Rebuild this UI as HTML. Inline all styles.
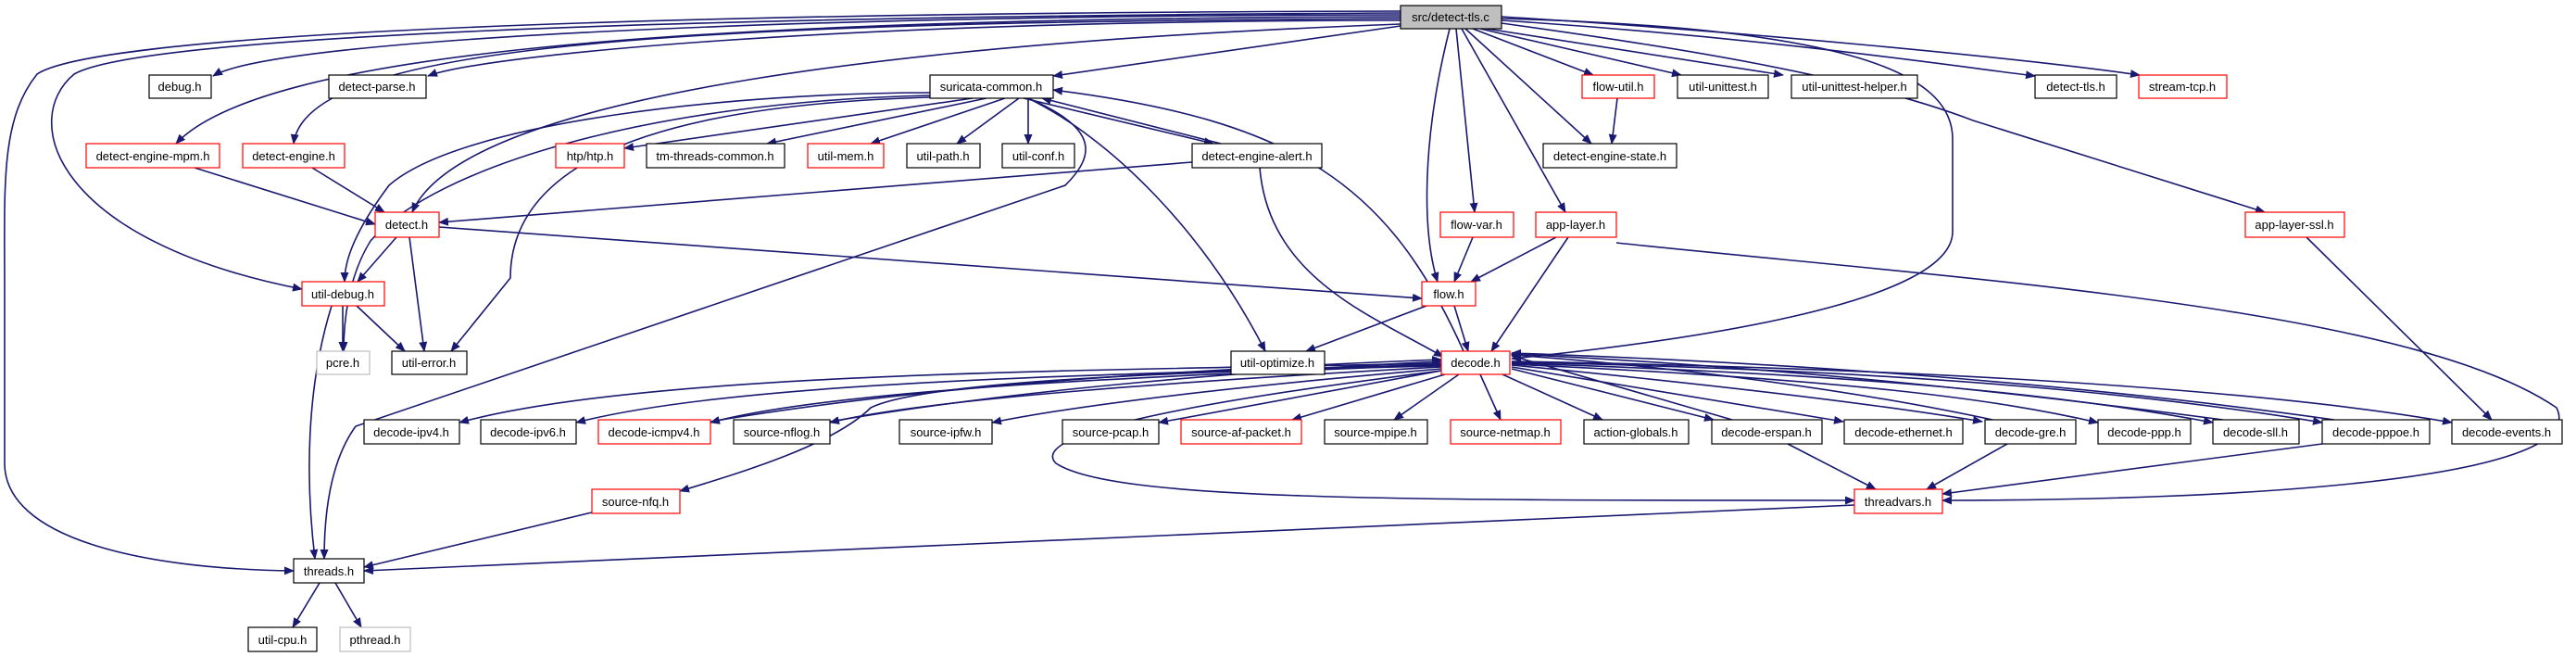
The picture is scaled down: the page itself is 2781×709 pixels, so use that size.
<!DOCTYPE html>
<html><head><meta charset="utf-8"><style>
html,body{margin:0;padding:0;background:#fff;}
svg{display:block;}
text{font-family:"Liberation Sans",sans-serif;font-size:13px;fill:#000;text-anchor:middle;}
.e{fill:none;stroke:#191970;stroke-width:1.6;marker-end:url(#a);}
.b{fill:#fff;stroke:#000;stroke-width:1.2;}
.r{fill:#fff;stroke:#ff0000;stroke-width:1.2;}
.g{fill:#fff;stroke:#bfbfbf;stroke-width:1.2;}
</style></head><body>
<svg width="2781" height="709" viewBox="0 0 2781 709" xmlns="http://www.w3.org/2000/svg">
<defs><marker id="a" markerWidth="11" markerHeight="9" refX="10" refY="4.5" orient="auto" markerUnits="userSpaceOnUse"><path d="M0,0 L11,4.5 L0,9 z" fill="#191970"/></marker></defs>
<g>
<path class="e" d="M1512,16 C900,16 300,40 230,82"/>
<path class="e" d="M1512,22 C900,22 520,60 462,82"/>
<path class="e" d="M1512,18 C700,20 280,60 190,155"/>
<path class="e" d="M1512,20 C700,24 330,50 317,155"/>
<path class="e" d="M1512,26 C1000,45 500,100 445,229"/>
<path class="e" d="M1512,14 C700,18 150,40 80,80 C20,130 60,260 326,312"/>
<path class="e" d="M1512,12 C600,14 100,40 40,80 C0,130 5,200 5,320 L5,500 C5,580 150,614 317,616"/>
<path class="e" d="M1512,28 L1137,82"/>
<path class="e" d="M1590,31 L1720,81"/>
<path class="e" d="M1598,31 L1815,81"/>
<path class="e" d="M1605,31 L1925,81"/>
<path class="e" d="M1621,22 C1900,40 2100,70 2197,82"/>
<path class="e" d="M1621,18 C1900,35 2200,65 2310,81"/>
<path class="e" d="M1582,31 L1718,155"/>
<path class="e" d="M1572,31 L1592,229"/>
<path class="e" d="M1578,31 L1690,229"/>
<path class="e" d="M1621,25 C1800,50 2000,80 2130,130 L2445,229"/>
<path class="e" d="M1565,31 C1535,150 1535,250 1552,304"/>
<path class="e" d="M1621,20 C2000,30 2108,80 2108,150 L2108,250 C2108,330 1800,370 1632,387"/>
<path class="e" d="M1050,106 L674,160"/>
<path class="e" d="M1065,106 L828,155"/>
<path class="e" d="M1085,106 L940,155"/>
<path class="e" d="M1100,106 L1033,155"/>
<path class="e" d="M1110,106 L1110,155"/>
<path class="e" d="M1105,106 L1310,155"/>
<path class="e" d="M1318,155 L1125,106"/>
<path class="e" d="M1004,100 C800,100 500,130 420,200 C375,260 372,290 372,304"/>
<path class="e" d="M1004,103 C700,110 470,180 400,260 C375,300 371,350 371,379"/>
<path class="e" d="M1004,105 C650,115 551,200 551,300 L487,379"/>
<path class="e" d="M1110,106 C1190,140 1180,170 1150,200 L384,460 C355,500 350,560 350,603"/>
<path class="e" d="M1110,106 C1200,150 1300,250 1366,379"/>
<path class="e" d="M1580,379 C1500,200 1400,130 1137,97"/>
<path class="e" d="M1287,175 L474,240"/>
<path class="e" d="M1360,181 C1370,300 1480,340 1558,385"/>
<path class="e" d="M210,181 L405,242"/>
<path class="e" d="M337,181 L415,229"/>
<path class="e" d="M428,256 L386,304"/>
<path class="e" d="M442,256 L458,379"/>
<path class="e" d="M474,245 L1535,322"/>
<path class="e" d="M370,330 L370,379"/>
<path class="e" d="M385,330 L437,379"/>
<path class="e" d="M358,330 C330,420 330,520 340,603"/>
<path class="e" d="M1746,106 L1740,155"/>
<path class="e" d="M1590,256 L1570,304"/>
<path class="e" d="M1680,256 L1588,304"/>
<path class="e" d="M1693,256 L1610,379"/>
<path class="e" d="M1745,262 C2100,300 2600,330 2760,440 C2800,520 2400,540 2097,540"/>
<path class="e" d="M2490,256 L2690,453"/>
<path class="e" d="M1540,330 L1410,379"/>
<path class="e" d="M1570,330 L1585,379"/>
<path class="e" d="M1556,392 C1200,400 700,400 496,456"/>
<path class="e" d="M1556,393 C1200,405 800,410 622,456"/>
<path class="e" d="M1556,394 C1250,405 900,420 767,456"/>
<path class="e" d="M1556,396 C1300,410 1000,430 896,456"/>
<path class="e" d="M1556,398 C1300,420 1150,440 1071,456"/>
<path class="e" d="M1556,400 L1251,456"/>
<path class="e" d="M1560,404 L1395,453"/>
<path class="e" d="M1575,404 L1505,453"/>
<path class="e" d="M1598,404 L1620,453"/>
<path class="e" d="M1622,404 L1730,453"/>
<path class="e" d="M1632,398 L1850,453"/>
<path class="e" d="M1632,396 L1990,455"/>
<path class="e" d="M1632,394 C1900,420 2050,440 2140,455"/>
<path class="e" d="M1632,393 C2000,410 2150,430 2265,456"/>
<path class="e" d="M1632,392 C2050,405 2250,430 2389,456"/>
<path class="e" d="M1632,391 C2100,400 2350,430 2507,456"/>
<path class="e" d="M1632,390 C2200,400 2500,430 2647,456"/>
<path class="e" d="M1556,395 C1300,400 1000,410 940,440 C900,480 800,510 734,530"/>
<path class="e" d="M1556,400 C1400,420 1100,460 1140,500 C1200,540 1500,540 2002,540"/>
<path class="e" d="M767,455 C1000,415 1300,398 1556,388"/>
<path class="e" d="M896,455 C1100,420 1350,400 1556,390"/>
<path class="e" d="M1870,453 L1632,384"/>
<path class="e" d="M2160,455 C2000,420 1800,395 1632,383"/>
<path class="e" d="M2400,453 C2150,420 1900,395 1632,382"/>
<path class="e" d="M2520,453 C2250,415 1950,392 1632,381"/>
<path class="e" d="M2002,545 L393,616"/>
<path class="e" d="M639,553 L393,612"/>
<path class="e" d="M1930,479 L2025,528"/>
<path class="e" d="M2167,479 L2080,528"/>
<path class="e" d="M2507,479 L2097,533"/>
<path class="e" d="M345,629 L316,677"/>
<path class="e" d="M362,629 L390,677"/>
</g>
<g>
<rect x="1512" y="6" width="109" height="25" fill="#bfbfbf" stroke="#000" stroke-width="1.2"/><text x="1566" y="23">src/detect-tls.c</text>
<rect class="b" x="161" y="81" width="67" height="25"/><text x="194" y="98">debug.h</text>
<rect class="b" x="355" y="81" width="105" height="25"/><text x="407" y="98">detect-parse.h</text>
<rect class="b" x="1004" y="81" width="133" height="25"/><text x="1070" y="98">suricata-common.h</text>
<rect class="r" x="1708" y="81" width="78" height="25"/><text x="1747" y="98">flow-util.h</text>
<rect class="b" x="1811" y="81" width="98" height="25"/><text x="1860" y="98">util-unittest.h</text>
<rect class="b" x="1934" y="81" width="136" height="25"/><text x="2002" y="98">util-unittest-helper.h</text>
<rect class="b" x="2197" y="81" width="88" height="25"/><text x="2241" y="98">detect-tls.h</text>
<rect class="r" x="2309" y="81" width="95" height="25"/><text x="2356" y="98">stream-tcp.h</text>
<rect class="r" x="93" y="155" width="144" height="26"/><text x="165" y="173">detect-engine-mpm.h</text>
<rect class="r" x="262" y="155" width="110" height="26"/><text x="317" y="173">detect-engine.h</text>
<rect class="r" x="600" y="155" width="74" height="26"/><text x="637" y="173">htp/htp.h</text>
<rect class="b" x="698" y="155" width="149" height="26"/><text x="772" y="173">tm-threads-common.h</text>
<rect class="r" x="872" y="155" width="82" height="26"/><text x="913" y="173">util-mem.h</text>
<rect class="b" x="979" y="155" width="79" height="26"/><text x="1018" y="173">util-path.h</text>
<rect class="b" x="1082" y="155" width="78" height="26"/><text x="1121" y="173">util-conf.h</text>
<rect class="b" x="1287" y="155" width="140" height="26"/><text x="1357" y="173">detect-engine-alert.h</text>
<rect class="b" x="1666" y="155" width="144" height="26"/><text x="1738" y="173">detect-engine-state.h</text>
<rect class="r" x="405" y="229" width="69" height="27"/><text x="439" y="247">detect.h</text>
<rect class="r" x="1555" y="229" width="79" height="27"/><text x="1594" y="247">flow-var.h</text>
<rect class="r" x="1658" y="229" width="87" height="27"/><text x="1701" y="247">app-layer.h</text>
<rect class="r" x="2424" y="229" width="107" height="27"/><text x="2477" y="247">app-layer-ssl.h</text>
<rect class="r" x="326" y="304" width="89" height="26"/><text x="370" y="322">util-debug.h</text>
<rect class="r" x="1535" y="304" width="58" height="26"/><text x="1564" y="322">flow.h</text>
<rect class="g" x="342" y="379" width="57" height="25"/><text x="370" y="396">pcre.h</text>
<rect class="b" x="423" y="379" width="81" height="25"/><text x="463" y="396">util-error.h</text>
<rect class="b" x="1329" y="379" width="101" height="25"/><text x="1379" y="396">util-optimize.h</text>
<rect class="r" x="1556" y="379" width="74" height="25"/><text x="1593" y="396">decode.h</text>
<rect class="b" x="393" y="453" width="103" height="26"/><text x="444" y="471">decode-ipv4.h</text>
<rect class="b" x="519" y="453" width="103" height="26"/><text x="570" y="471">decode-ipv6.h</text>
<rect class="r" x="646" y="453" width="121" height="26"/><text x="706" y="471">decode-icmpv4.h</text>
<rect class="b" x="792" y="453" width="104" height="26"/><text x="844" y="471">source-nflog.h</text>
<rect class="b" x="971" y="453" width="100" height="26"/><text x="1021" y="471">source-ipfw.h</text>
<rect class="b" x="1147" y="453" width="104" height="26"/><text x="1199" y="471">source-pcap.h</text>
<rect class="r" x="1275" y="453" width="130" height="26"/><text x="1340" y="471">source-af-packet.h</text>
<rect class="b" x="1430" y="453" width="111" height="26"/><text x="1485" y="471">source-mpipe.h</text>
<rect class="r" x="1566" y="453" width="119" height="26"/><text x="1625" y="471">source-netmap.h</text>
<rect class="b" x="1710" y="453" width="113" height="26"/><text x="1766" y="471">action-globals.h</text>
<rect class="b" x="1848" y="453" width="119" height="26"/><text x="1907" y="471">decode-erspan.h</text>
<rect class="b" x="1991" y="453" width="128" height="26"/><text x="2055" y="471">decode-ethernet.h</text>
<rect class="b" x="2143" y="453" width="98" height="26"/><text x="2192" y="471">decode-gre.h</text>
<rect class="b" x="2265" y="453" width="100" height="26"/><text x="2315" y="471">decode-ppp.h</text>
<rect class="b" x="2389" y="453" width="93" height="26"/><text x="2435" y="471">decode-sll.h</text>
<rect class="b" x="2507" y="453" width="116" height="26"/><text x="2565" y="471">decode-pppoe.h</text>
<rect class="b" x="2647" y="453" width="119" height="26"/><text x="2706" y="471">decode-events.h</text>
<rect class="r" x="639" y="528" width="95" height="26"/><text x="686" y="546">source-nfq.h</text>
<rect class="r" x="2002" y="528" width="95" height="26"/><text x="2049" y="546">threadvars.h</text>
<rect class="b" x="317" y="603" width="76" height="26"/><text x="355" y="621">threads.h</text>
<rect class="b" x="268" y="677" width="74" height="26"/><text x="305" y="695">util-cpu.h</text>
<rect class="g" x="367" y="677" width="76" height="26"/><text x="405" y="695">pthread.h</text>
</g>
</svg>
</body></html>
